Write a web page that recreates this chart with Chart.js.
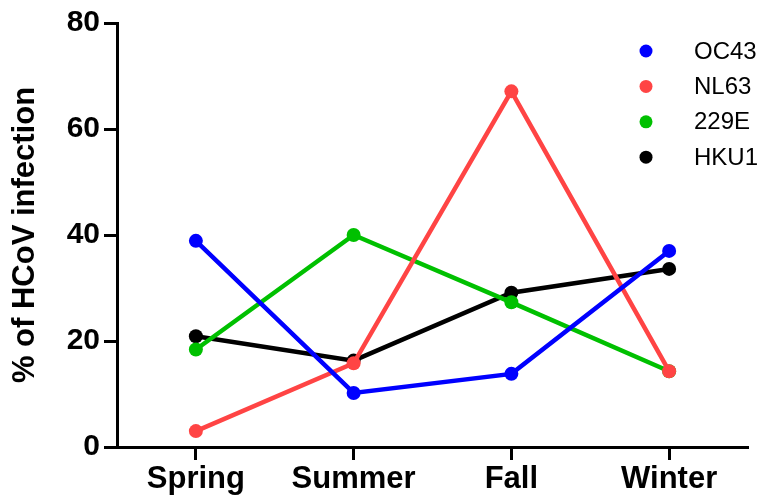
<!DOCTYPE html>
<html>
<head>
<meta charset="utf-8">
<script src="https://cdn.jsdelivr.net/npm/chart.js@4.4.1/dist/chart.umd.min.js"></script>
<style>
  html, body { margin: 0; padding: 0; background: #fff; }
  #wrap { width: 763px; height: 497px; position: relative; }
</style>
</head>
<body>
<div id="wrap"><canvas id="c" width="763" height="497"></canvas></div>
<script>
// saisons + valeurs (% d'infection HCoV)
const seasons = ['Spring', 'Summer', 'Fall', 'Winter'];
const oc43 = [38.9, 10.2, 13.8, 37.0];
const nl63 = [3.0, 15.8, 67.1, 14.3];
const e229 = [18.4, 40.0, 27.3, 14.3];
const hku1 = [20.9, 16.3, 29.1, 33.6];
const yTicks = [0, 20, 40, 60, 80];

const FONT = "'Liberation Sans', Arial, Helvetica, sans-serif";

function serie(label, data, color) {
  return {
    label, data,
    borderColor: color,
    backgroundColor: color,
    pointBackgroundColor: color,
    pointBorderWidth: 0,
    borderWidth: 4.5,
    pointRadius: 7,
    pointHoverRadius: 7,
    tension: 0
  };
}

// légende dessinée à la main en haut à droite, dans la zone du graphe
const legendPlugin = {
  id: 'sideLegend',
  afterDraw(chart) {
    const ctx = chart.ctx;
    ctx.save();
    ctx.font = `24px ${FONT}`;
    ctx.textBaseline = 'middle';
    chart.data.datasets.forEach((ds, i) => {
      const y = 51 + i * 35.4;
      ctx.fillStyle = ds.borderColor;
      ctx.beginPath();
      ctx.arc(646, y, 6.5, 0, Math.PI * 2);
      ctx.fill();
      ctx.fillStyle = '#000';
      ctx.fillText(ds.label, 694, y + 1);
    });
    ctx.restore();
  }
};

new Chart(document.getElementById('c'), {
  type: 'line',
  data: {
    labels: seasons,
    datasets: [
      serie('OC43', oc43, '#0000ff'),
      serie('NL63', nl63, '#ff4444'),
      serie('229E', e229, '#00c000'),
      serie('HKU1', hku1, '#000000')
    ]
  },
  options: {
    responsive: false,
    animation: false,
    layout: { padding: { left: 0, right: 15, top: 23, bottom: 0 } },
    plugins: {
      legend: { display: false },
      tooltip: { enabled: false }
    },
    scales: {
      x: {
        offset: true,
        border: { color: '#000', width: 3 },
        grid: { drawOnChartArea: false, tickLength: 13, tickWidth: 3, tickColor: '#000', offset: false },
        ticks: { color: '#000', font: { family: FONT, size: 31, weight: 'bold' }, padding: 1, maxRotation: 0 },
        afterFit(s) { s.height = 50; }
      },
      y: {
        min: 0, max: 80,
        afterBuildTicks(s) { s.ticks = yTicks.map(v => ({ value: v })); },
        border: { color: '#000', width: 3 },
        grid: { drawOnChartArea: false, tickLength: 13, tickWidth: 3, tickColor: '#000' },
        ticks: { color: '#000', font: { family: FONT, size: 30, weight: 'bold' }, padding: 4 },
        title: {
          display: true,
          text: '% of HCoV infection',
          color: '#000',
          font: { family: FONT, size: 31, weight: 'bold' },
          padding: { top: 7, bottom: 0 }
        },
        afterFit(s) { s.width = 117; }
      }
    }
  },
  plugins: [legendPlugin]
});
</script>
</body>
</html>
